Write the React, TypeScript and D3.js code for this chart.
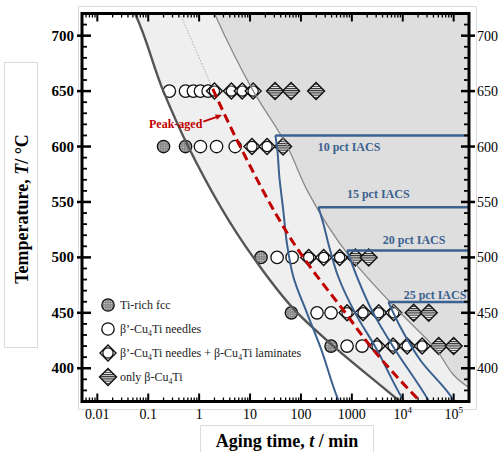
import * as d3 from "d3";

// temperatures (°C) and aging times (min)
const tempTicks = [400, 450, 500, 550, 600, 650, 700];
const timeTickExps = [-2, -1, 0, 1, 2, 3, 4, 5];
const timeTickLabels = ["0.01", "0.1", "1", "10", "100", "1000", "10^4", "10^5"];

// [T, t]
const fccPoints: [number, number][] = [
  [600, 0.2], [600, 0.54], [500, 16.4], [450, 65], [420, 390],
];
const needlePoints: [number, number][] = [
  [650, 0.26], [650, 0.54], [650, 0.77], [650, 1.06], [650, 1.5],
  [600, 1.06], [600, 2.2], [600, 5.1],
  [500, 34], [500, 67],
  [450, 207], [450, 390],
  [420, 805], [420, 1590],
];
const mixedPoints: [number, number][] = [
  [650, 2.0], [650, 4.3], [650, 7.0], [650, 11.5],
  [600, 10.9], [600, 21.6],
  [500, 142], [500, 279], [500, 576],
  [450, 805], [450, 1660], [450, 3370], [450, 6640],
  [420, 3130], [420, 6460], [420, 12200], [420, 24000],
];
const betaPoints: [number, number][] = [
  [650, 31], [650, 64], [650, 198],
  [600, 44.5],
  [500, 1170], [500, 2140],
  [450, 16400], [450, 32400],
  [420, 50900], [420, 100000],
];

// boundaries [T, t]
const fccBoundary: [number, number][] = [
  [728, 0.045], [719, 0.056], [650, 0.198], [600, 0.61], [500, 11.6],
  [450, 85], [420, 434], [372, 7800], [362, 14000],
];
const betaBoundary: [number, number][] = [
  [730, 1.6], [720, 2.0], [650, 11.6], [600, 54], [560, 134], [500, 930],
  [450, 8970], [420, 40000], [383, 195000], [375, 400000],
];
const peakExtrap: [number, number][] = [[720, 0.42], [652, 1.85]];
const peakAged: [number, number][] = [
  [652, 1.85], [600, 6.4], [500, 111], [450, 745], [420, 2300], [370, 22000], [365, 28000],
];

const iacs10: [number, number][] = [
  [610, 31.4], [599.4, 33.9], [572.3, 37.7], [542.3, 45], [512.6, 53],
  [482.3, 71], [449.5, 132], [419.2, 240], [371.2, 543], [365, 620],
];
const iacs15: [number, number][] = [
  [545.3, 220], [530.6, 275], [512.6, 345], [482.3, 543], [449.5, 1172],
  [419.2, 2897], [371.2, 10280], [365, 12500],
];
const iacs20: [number, number][] = [
  [506.3, 805], [482.3, 1266], [449.5, 2650], [419.2, 6530], [371.2, 31800], [365, 38000],
];
const iacs25: [number, number][] = [
  [459.7, 5210], [437.2, 8970], [407.2, 22200], [371.2, 98600], [365, 115000],
];
const iacsCurves = [iacs10, iacs15, iacs20, iacs25];
const iacsLabels = ["10 pct IACS", "15 pct IACS", "20 pct IACS", "25 pct IACS"];
// label anchor [T, t]
const iacsLabelAt: [number, number][] = [[596.4, 880], [553.4, 3300], [512.3, 16700], [462.8, 43000]];

const legendLabels = [
  "Ti-rich fcc",
  "β’-Cu_4Ti needles",
  "β’-Cu_4Ti needles + β-Cu_4Ti laminates",
  "only β-Cu_4Ti",
];

const BLUE = "#3b6190";
const RED = "#c00000";
const FONT = "'Liberation Serif', 'Times New Roman', serif";

function SubText({ s, fs }: { s: string; fs: number }) {
  const parts = s.split("_");
  return (
    <>
      {parts.map((p, i) =>
        i === 0 ? (
          <tspan key={i}>{p}</tspan>
        ) : (
          <>
            <tspan key={i + "s"} fontSize={fs * 0.65} dy={3}>
              {p[0]}
            </tspan>
            <tspan key={i + "r"} dy={-3}>
              {p.slice(1)}
            </tspan>
          </>
        )
      )}
    </>
  );
}

function Circle({ cx, cy, fill }: { cx: number; cy: number; fill: string }) {
  return <circle cx={cx} cy={cy} r={6.2} fill={fill} stroke="#111" strokeWidth={1.3} />;
}

function Diamond({ cx, cy, fill, h = 8 }: { cx: number; cy: number; fill: string; h?: number }) {
  return (
    <path
      d={`M${cx},${cy - h}L${cx + h},${cy}L${cx},${cy + h}L${cx - h},${cy}Z`}
      fill={fill}
      stroke="#111"
      strokeWidth={1.4}
    />
  );
}

function Mixed({ cx, cy }: { cx: number; cy: number }) {
  return (
    <g>
      <Diamond cx={cx} cy={cy} fill="#fff" />
      <circle cx={cx} cy={cy} r={5.1} fill="#fff" stroke="#111" strokeWidth={1.2} />
    </g>
  );
}

export default function App() {
  const W = 500;
  const H = 452;
  const pl = { left: 82, right: 469, top: 13.5, bottom: 401.5 };

  const x = d3.scaleLog().domain([0.005, 2e5]).range([pl.left, pl.right]);
  const y = d3.scaleLinear().domain([370, 720]).range([pl.bottom, pl.top]);

  const line = d3
    .line<[number, number]>()
    .x((d) => x(d[1]))
    .y((d) => y(d[0]))
    .curve(d3.curveMonotoneY);
  const straight = d3
    .line<[number, number]>()
    .x((d) => x(d[1]))
    .y((d) => y(d[0]));

  const lightArea =
    line(fccBoundary) +
    `L${W + 50},${y(fccBoundary[fccBoundary.length - 1][0])}L${W + 50},${y(fccBoundary[0][0])}Z`;
  const darkArea =
    line(betaBoundary) +
    `L${W + 50},${y(betaBoundary[betaBoundary.length - 1][0])}L${W + 50},${y(betaBoundary[0][0])}Z`;

  const minorTimes: number[] = [];
  for (let k = -3; k <= 5; k++) {
    for (let m = 2; m <= 9; m++) {
      const v = m * Math.pow(10, k);
      if (v > 0.005 && v < 2e5) minorTimes.push(v);
    }
  }
  const minorTemps = d3.range(380, 720, 10).filter((t) => t % 50 !== 0);

  const arrowFrom: [number, number] = [622.5, 1.21];
  const arrowTo: [number, number] = [628.4, 2.82];
  const ax1 = x(arrowFrom[1]);
  const ay1 = y(arrowFrom[0]);
  const ax2 = x(arrowTo[1]);
  const ay2 = y(arrowTo[0]);
  const ang = Math.atan2(ay2 - ay1, ax2 - ax1);
  const ah = 7;
  const head = `M${ax2},${ay2}L${ax2 - ah * Math.cos(ang - 0.4)},${ay2 - ah * Math.sin(ang - 0.4)}L${
    ax2 - ah * Math.cos(ang + 0.4)
  },${ay2 - ah * Math.sin(ang + 0.4)}Z`;

  return (
    <svg
      width={W}
      height={H}
      style={{ position: "absolute", left: 0, top: 0, background: "#fff" }}
      fontFamily={FONT}
    >
      <defs>
        <clipPath id="plotClip">
          <rect x={pl.left} y={pl.top} width={pl.right - pl.left} height={pl.bottom - pl.top} />
        </clipPath>
        <pattern id="dots" width="2.4" height="2.4" patternUnits="userSpaceOnUse">
          <rect width="2.4" height="2.4" fill="#868686" />
          <circle cx="1.2" cy="1.2" r="0.65" fill="#d6d6d6" />
        </pattern>
        <pattern id="hatch" width="4" height="2.2" patternUnits="userSpaceOnUse">
          <rect width="4" height="2.2" fill="#f4f4f4" />
          <rect width="4" height="1.1" fill="#2a2a2a" />
        </pattern>
      </defs>

      {/* light frames */}
      <rect x={78.5} y={6.5} width={398} height={403} fill="none" stroke="#dcdcdc" />
      <rect x={4.5} y={62.5} width={33} height={285} fill="#fff" stroke="#dcdcdc" />
      <rect x={200.5} y={425.5} width={173} height={30} fill="#fff" stroke="#dcdcdc" />

      <g clipPath="url(#plotClip)">
        <rect x={pl.left} y={pl.top} width={pl.right - pl.left} height={pl.bottom - pl.top} fill="#fff" />
        <path d={lightArea} fill="#efefef" />
        <path d={darkArea} fill="#dedede" />

        <path d={straight(peakExtrap) || ""} fill="none" stroke="#999" strokeWidth={0.8} strokeDasharray="1.5,1.5" />

        {fccPoints.map((d, i) => (
          <Circle key={"f" + i} cx={x(d[1])} cy={y(d[0])} fill="url(#dots)" />
        ))}
        {needlePoints.map((d, i) => (
          <Circle key={"n" + i} cx={x(d[1])} cy={y(d[0])} fill="#fff" />
        ))}
        {mixedPoints.map((d, i) => (
          <Mixed key={"m" + i} cx={x(d[1])} cy={y(d[0])} />
        ))}
        {betaPoints.map((d, i) => (
          <Diamond key={"b" + i} cx={x(d[1])} cy={y(d[0])} fill="url(#hatch)" h={8.5} />
        ))}

        <path d={line(fccBoundary) || ""} fill="none" stroke="#555" strokeWidth={2.4} />
        <path d={line(betaBoundary) || ""} fill="none" stroke="#8a8a8a" strokeWidth={1.3} />

        {iacsCurves.map((c, i) => (
          <g key={"iacs" + i}>
            <path d={line(c) || ""} fill="none" stroke={BLUE} strokeWidth={2} />
            <line
              x1={x(c[0][1])}
              y1={y(c[0][0])}
              x2={pl.right + 5}
              y2={y(c[0][0])}
              stroke={BLUE}
              strokeWidth={2.5}
            />
          </g>
        ))}

        <path d={line(peakAged) || ""} fill="none" stroke={RED} strokeWidth={3} strokeDasharray="9,5" />
      </g>

      {iacsLabels.map((l, i) => (
        <text
          key={l}
          x={x(iacsLabelAt[i][1])}
          y={y(iacsLabelAt[i][0])}
          textAnchor="middle"
          fontSize={12}
          fontWeight="bold"
          fill={BLUE}
        >
          {l}
        </text>
      ))}

      {/* Peak-aged label + arrow */}
      <text x={ax1 - 1} y={y(617)} textAnchor="end" fontSize={12} fontWeight="bold" fill={RED}>
        Peak-aged
      </text>
      <line x1={ax1} y1={ay1} x2={ax2 - 4 * Math.cos(ang)} y2={ay2 - 4 * Math.sin(ang)} stroke={RED} strokeWidth={1.8} />
      <path d={head} fill={RED} />

      {/* legend */}
      {legendLabels.map((l, i) => {
        const ly = 305 + i * 24;
        const lx = 108;
        return (
          <g key={l}>
            {i === 0 && <Circle cx={lx} cy={ly} fill="url(#dots)" />}
            {i === 1 && <Circle cx={lx} cy={ly} fill="#fff" />}
            {i === 2 && <Mixed cx={lx} cy={ly} />}
            {i === 3 && <Diamond cx={lx} cy={ly} fill="url(#hatch)" h={8.5} />}
            <text x={120} y={ly + 4} fontSize={12} fill="#222">
              <SubText s={l} fs={12} />
            </text>
          </g>
        );
      })}

      {/* axes frame */}
      <rect
        x={pl.left}
        y={pl.top}
        width={pl.right - pl.left}
        height={pl.bottom - pl.top}
        fill="none"
        stroke="#000"
        strokeWidth={3}
      />

      {/* y ticks */}
      {tempTicks.map((t) => (
        <g key={"yt" + t}>
          <line x1={pl.left - 5} x2={pl.left + 9} y1={y(t)} y2={y(t)} stroke="#000" strokeWidth={2.5} />
          <line x1={pl.right - 8} x2={pl.right + 6} y1={y(t)} y2={y(t)} stroke="#000" strokeWidth={2.5} />
          <text x={pl.left - 8} y={y(t) + 5} textAnchor="end" fontSize={15} fontWeight="bold">
            {t}
          </text>
          <text x={pl.right + 8} y={y(t) + 5} textAnchor="start" fontSize={14}>
            {t}
          </text>
        </g>
      ))}
      {minorTemps.map((t) => (
        <g key={"ym" + t}>
          <line x1={pl.left} x2={pl.left + 5} y1={y(t)} y2={y(t)} stroke="#000" strokeWidth={1.8} />
          <line x1={pl.right - 5} x2={pl.right} y1={y(t)} y2={y(t)} stroke="#000" strokeWidth={1.8} />
        </g>
      ))}

      {/* x ticks */}
      {timeTickExps.map((k, i) => {
        const xv = x(Math.pow(10, k));
        const [base, sup] = timeTickLabels[i].split("^");
        return (
          <g key={"xt" + k}>
            <line x1={xv} x2={xv} y1={pl.bottom} y2={pl.bottom - 8} stroke="#000" strokeWidth={2} />
            <line x1={xv} x2={xv} y1={pl.top} y2={pl.top + 8} stroke="#000" strokeWidth={2} />
            <text x={xv} y={419} textAnchor="middle" fontSize={14}>
              <tspan>{base}</tspan>
              {sup && (
                <tspan fontSize={9} dy={-6}>
                  {sup}
                </tspan>
              )}
            </text>
          </g>
        );
      })}
      {minorTimes.map((v) => (
        <g key={"xm" + v}>
          <line x1={x(v)} x2={x(v)} y1={pl.bottom} y2={pl.bottom - 4} stroke="#000" strokeWidth={1.3} />
          <line x1={x(v)} x2={x(v)} y1={pl.top} y2={pl.top + 4} stroke="#000" strokeWidth={1.3} />
        </g>
      ))}

      {/* axis titles */}
      <text x={287} y={447} textAnchor="middle" fontSize={18} fontWeight="bold">
        Aging time, <tspan fontStyle="italic">t</tspan> / min
      </text>
      <text
        transform="translate(28,209) rotate(-90)"
        textAnchor="middle"
        fontSize={18}
        fontWeight="bold"
      >
        Temperature, <tspan fontStyle="italic">T</tspan>/ °C
      </text>
    </svg>
  );
}
